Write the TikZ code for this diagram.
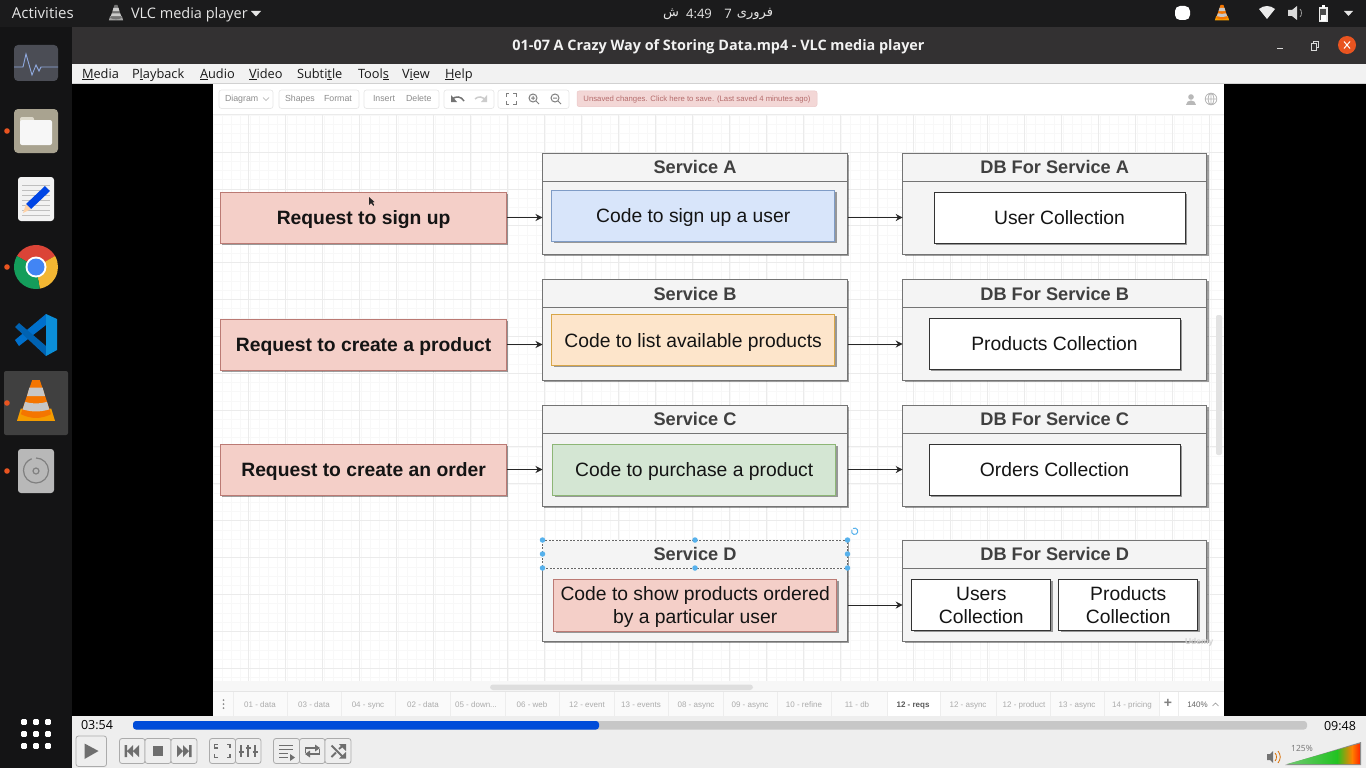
\documentclass[tikz,border=0pt]{standalone}
\usepackage{fontspec}
\setmainfont{Liberation Sans}
\newfontfamily\uifont{Open Sans}
\newfontfamily\arabicfont[Script=Arabic]{DejaVu Sans}
\TeXXeTstate=1
\usetikzlibrary{arrows.meta,shadows}
\definecolor{dock}{HTML}{141415}
\definecolor{topbar}{HTML}{1B1B1C}
\definecolor{titlebar}{HTML}{333132}
\definecolor{ctrl}{HTML}{EEEEEE}
\definecolor{gridminor}{HTML}{F8F8F8}
\definecolor{gridmajor}{HTML}{EBEBEB}
\definecolor{reqfill}{HTML}{F4CFC8}
\definecolor{reqline}{HTML}{BB7A74}
\definecolor{panelfill}{HTML}{F4F4F4}
\definecolor{panelline}{HTML}{747474}
\definecolor{tabtext}{HTML}{ABABAB}
\definecolor{handle}{HTML}{56B1EC}
\definecolor{orangedot}{HTML}{E95420}
\definecolor{vlco}{HTML}{F28A00}
\definecolor{btnline}{HTML}{ABABAB}
\definecolor{btnicon}{HTML}{6E6E6E}
\definecolor{codeAfill}{HTML}{D8E5FA}
\definecolor{codeAline}{HTML}{7F9CC6}
\definecolor{codeBfill}{HTML}{FDE5CB}
\definecolor{codeBline}{HTML}{D8A648}
\definecolor{codeCfill}{HTML}{D4E6D3}
\definecolor{codeCline}{HTML}{8DB676}
\tikzset{
  every node/.style={inner sep=0pt,outer sep=0pt},
  boxshadow/.style={drop shadow={shadow xshift=1.8pt,shadow yshift=-1.8pt,fill=black,opacity=.38}},
  reqbox/.style={draw=reqline,fill=reqfill,line width=1pt,minimum width=286pt,minimum height=51pt,boxshadow,font=\fontsize{19.3}{22}\selectfont\bfseries,text=black!92,text height=13pt,text depth=0pt},
  panel/.style={draw=panelline,fill=panelfill,line width=1pt,minimum width=305pt,minimum height=101pt,boxshadow},
  panelhead/.style={draw=panelline,fill=panelfill,line width=.8pt,minimum width=305pt,minimum height=28pt,font=\fontsize{18.2}{20}\selectfont\bfseries,text=black!75},
  codebox/.style={line width=1pt,minimum width=283pt,minimum height=51pt,boxshadow,font=\fontsize{19.3}{23}\selectfont,align=center,text=black!92},
  codeone/.style={codebox,text height=14pt,text depth=0pt},
  collbox/.style={draw=black!80,fill=white,line width=1pt,minimum width=251pt,minimum height=51pt,boxshadow,font=\fontsize{19.3}{23}\selectfont,align=center,text=black!92},
  collsmall/.style={collbox,minimum width=139pt},
  conn/.style={draw=black!85,line width=1pt,-{Stealth[length=7pt,width=7pt]}},
  seldot/.style={circle,fill=handle,minimum size=5.5pt},
  tabsep/.style={draw=black!7,line width=.8pt},
  tablab/.style={font=\fontsize{8}{10}\selectfont,text=tabtext,text height=6pt,text depth=0pt},
  toolgroup/.style={draw=black!9,fill=white,line width=.7pt,rounded corners=2.5pt},
  toollab/.style={font=\fontsize{8.8}{10}\selectfont,text=black!45,anchor=base west},
  menulab/.style={anchor=base west,font=\uifont\fontsize{12.8}{14}\selectfont,text=black!90},
  ctrlbtn/.style={draw=btnline,fill=ctrl,line width=.8pt,rounded corners=2.5pt},
  baricon/.style={fill=btnicon,draw=none},
  barline/.style={draw=btnicon,line width=1.9pt},
  appdot/.style={fill=white,rounded corners=1pt},
  pipdot/.style={circle,fill=orangedot,minimum size=5.6pt},
}
% VLC cone: centre x, top y, scale
\newcommand{\vlccone}[3]{%
  \begin{scope}[shift={(#1,#2)},scale=#3]
    \fill[vlco!85!yellow] (-20,43) -- (20,43) -- (16,30) -- (-16,30) -- cycle;
    \fill[vlco!85!red] (-4,0) -- (4,0) -- (16,36) to[bend left=25] (-16,36) -- cycle;
    \fill[black!22] (-7,8) -- (7,8) -- (9.5,17) -- (-9.5,17) -- cycle;
    \fill[black!22] (-11.5,23) to[bend right=15] (11.5,23) -- (14,31) to[bend left=15] (-14,31) -- cycle;
  \end{scope}}
\begin{document}
\begin{tikzpicture}[x=1pt,y=-1pt]
\useasboundingbox (0,0) rectangle (1366,768);
% ---- desktop frame
\fill[black] (0,0) rectangle (1366,768);
\fill[dock] (0,27) rectangle (72,768);
\fill[topbar] (0,0) rectangle (1366,27);
\fill[titlebar] (72,27) rectangle (1366,64);
\fill[black!5] (72,64) rectangle (1366,84);
\draw[black!18,line width=.6pt] (72,83.7) -- (1366,83.7);
\fill[white] (213,84) rectangle (1224,716);
\fill[ctrl] (72,716) rectangle (1366,768);
% ---- top bar
\node[anchor=base west,font=\uifont\fontsize{15}{17}\selectfont,text=white!90!black] (activities) at (12,19) {Activities};
\begin{scope}[shift={(116,5)},scale=.36]
  \fill[black!35] (-20,43) -- (20,43) -- (16,30) -- (-16,30) -- cycle;
  \fill[black!55] (-4,0) -- (4,0) -- (16,36) to[bend left=25] (-16,36) -- cycle;
  \fill[white!80!black] (-7,8) -- (7,8) -- (9.5,17) -- (-9.5,17) -- cycle;
  \fill[white!80!black] (-11.5,23) -- (11.5,23) -- (14,31) -- (-14,31) -- cycle;
\end{scope}
\node[anchor=base west,font=\uifont\fontsize{14.5}{17}\selectfont,text=white!90!black] (appname) at (131,19) {VLC media player};
\fill[white!90!black] (251,11) -- (261,11) -- (256,16.5) -- cycle;
\node[font=\arabicfont\fontsize{13}{15}\selectfont,text=white!90!black] (dateword) at (755,14) {\beginR فروری\endR};
\node[font=\uifont\fontsize{13}{15}\selectfont,text=white!90!black] (dateday) at (728,13.5) {7};
\node[font=\uifont\fontsize{13}{15}\selectfont,text=white!90!black] (clock) at (699,13.5) {4:49};
\node[font=\arabicfont\fontsize{13}{15}\selectfont,text=white!90!black] (ampm) at (671,14) {\beginR ش\endR};
\fill[white,rounded corners=5pt] (1175,6) rectangle (1190,20);
\vlccone{1222}{5}{.36}
\fill[white!92!black] (1259,9) .. controls (1264,5) and (1270,5) .. (1275,9) -- (1267,19) -- cycle;
\fill[white!85!black] (1288,10) -- (1292,10) -- (1297,6) -- (1297,20) -- (1292,16) -- (1288,16) -- cycle;
\draw[white!60!black,line width=.8pt] (1300,9) .. controls (1302,11) and (1302,15) .. (1300,17);
\draw[white!92!black,line width=1.4pt,fill=black!70] (1319.5,8) rectangle (1327,21);
\fill[white] (1321,15) rectangle (1325.5,21);
\fill[white] (1321.5,5.5) rectangle (1325,8);
\fill[white!90!black] (1344,11) -- (1353,11) -- (1348.5,16) -- cycle;
% ---- title bar
\node[anchor=base,font=\uifont\fontsize{14.4}{17}\selectfont\bfseries,text=white!95!black] (wintitle) at (718.5,51) {01-07 A Crazy Way of Storing Data.mp4 - VLC media player};
\draw[white!85!black,line width=1pt] (1277,48.5) -- (1283,48.5);
\draw[white!85!black,line width=.9pt] (1311,43.5) rectangle (1316.5,50);
\draw[white!85!black,line width=.7pt] (1313,43) -- (1313,41.5) -- (1318,41.5) -- (1318,47.5) -- (1316.5,47.5);
\fill[orangedot] (1347,45) circle[radius=9];
\draw[white,line width=1pt] (1344,41.5) -- (1350,48.5) (1350,41.5) -- (1344,48.5);
% ---- menu
\node[menulab] (mMedia) at (82,78) {\underline{M}edia};
\node[menulab] (mPlay) at (132,78) {P\underline{l}ayback};
\node[menulab] (mAudio) at (200,78) {\underline{A}udio};
\node[menulab] (mVideo) at (249,78) {\underline{V}ideo};
\node[menulab] (mSub) at (297,78) {Subti\underline{t}le};
\node[menulab] (mTools) at (358,78) {Tool\underline{s}};
\node[menulab] (mView) at (402,78) {V\underline{i}ew};
\node[menulab] (mHelp) at (445,78) {\underline{H}elp};
% ---- dock icons
\definecolor{sysmon}{HTML}{4B4D55}
\definecolor{sysline}{HTML}{8FA8DC}
\definecolor{filesbg}{HTML}{A9A390}
\definecolor{filestab}{HTML}{DEDACC}
\definecolor{chromer}{HTML}{DB4437}
\definecolor{chromey}{HTML}{F2B632}
\definecolor{chromeg}{HTML}{149D5B}
\definecolor{chromeb}{HTML}{4285F4}
\fill[sysmon,rounded corners=4pt] (14,45) rectangle (58,81);
\draw[sysline,line width=.9pt] (14,67) -- (23,67) -- (26,54) -- (32,75) -- (36,65) -- (39,71) -- (41,67) -- (58,67);
\fill[filesbg,rounded corners=4pt] (14,109) rectangle (58,153);
\fill[filestab,rounded corners=2pt] (20,117) rectangle (34,127);
\fill[white!97!black,rounded corners=2pt] (20,120) rectangle (52,145);
\fill[white!95!black,rounded corners=3pt] (18,177) rectangle (54,221);
\foreach \yy in {185,190,...,215} \draw[black!25,line width=.5pt] (22,\yy) -- (50,\yy);
\fill[blue!70!cyan!90!black] (45,186) -- (50,191) -- (31,209) -- (26,204) -- cycle;
\fill[orange!35!white] (26,204) -- (31,209) -- (23,213) -- cycle;
% chrome
\fill[chromer] (36,267) -- ++(-150:22) arc[start angle=-150,end angle=-30,radius=22] -- cycle;
\fill[chromey] (36,267) -- ++(-30:22) arc[start angle=-30,end angle=80,radius=22] -- cycle;
\fill[chromeg] (36,267) -- ++(80:22) arc[start angle=80,end angle=210,radius=22] -- cycle;
\fill[white] (36,267) circle[radius=10.5];
\fill[chromeb] (36,267) circle[radius=8.5];
% vscode
\fill[blue!45!cyan!80!black] (46,314) -- (15,340) -- (19,346) -- (46,325) -- cycle;
\fill[blue!45!cyan!70!black] (15,327) -- (19,323) -- (46,346) -- (46,356) -- cycle;
\fill[cyan!75!blue] (46,314) -- (57,319) -- (57,350) -- (46,356) -- cycle;
% vlc active
\fill[black!75,rounded corners=2pt] (4,371) rectangle (68,435);
\vlccone{36}{380}{.95}
% disk
\fill[black!28,rounded corners=3pt] (18,449) rectangle (54,493);
\draw[black!50,line width=1.2pt] (36,458) arc[start angle=-90,end angle=250,radius=12.5];
\draw[black!50,line width=1.2pt] (36,471) circle[radius=3];
% pips and app grid
\foreach \yy [count=\n] in {131,267,403,471} \node[pipdot] (pip\n) at (7,\yy) {};
\foreach \xx in {24,36,48} \foreach \yy in {722,734,746} \fill[appdot] (\xx-2.8,\yy-2.8) rectangle (\xx+2.8,\yy+2.8);
% ---- draw.io canvas
\foreach \k in {0,...,108} \draw[gridminor,line width=.5pt] ({213+9.24*\k},115) -- ({213+9.24*\k},681);
\foreach \k in {0,...,61} \draw[gridminor,line width=.5pt] (213,{115+9.22*\k}) -- (1224,{115+9.22*\k});
\foreach \k in {0,...,26} \draw[gridmajor,line width=.7pt] ({248.7+36.95*\k},115) -- ({248.7+36.95*\k},681);
\foreach \k in {0,...,15} \draw[gridmajor,line width=.7pt] (213,{152+36.85*\k}) -- (1224,{152+36.85*\k});
% toolbar
\fill[white] (213,84) rectangle (1224,113);
\draw[black!8,line width=1pt] (213,114) -- (1224,114);
\draw[toolgroup] (219,90) rectangle (273,108.5);
\draw[toolgroup] (279,90) rectangle (359,108.5);
\draw[toolgroup] (364,90) rectangle (439,108.5);
\draw[toolgroup] (444,90) rectangle (494,108.5);
\draw[toolgroup] (498,90) rectangle (569,108.5);
\node[toollab] (tDiagram) at (225,102) {Diagram};
\draw[black!35,line width=.6pt] (263,97.5) -- (266,100.5) -- (269,97.5);
\node[toollab] (tShapes) at (285,102) {Shapes};
\node[toollab] (tFormat) at (324,102) {Format};
\node[toollab] (tInsert) at (373,102) {Insert};
\node[toollab] (tDelete) at (406,102) {Delete};
\draw[black!55,line width=1.5pt] (464,101) .. controls (461,96) and (456,96) .. (452,99);
\fill[black!55] (451,95) -- (451,102) -- (457,102) -- cycle;
\draw[black!20,line width=1.5pt] (475,99) .. controls (478,96) and (483,96) .. (486,101);
\fill[black!20] (487,95) -- (487,102) -- (481,102) -- cycle;
\draw[black!50,line width=1pt] (506,97) -- (506,94) -- (509,94) (513,94) -- (516,94) -- (516,97) (516,101) -- (516,104) -- (513,104) (509,104) -- (506,104) -- (506,101);
\draw[black!50,line width=1pt] (533,98) circle[radius=4] (536,101) -- (539,104) (531,98) -- (535,98) (533,96) -- (533,100);
\draw[black!50,line width=1pt] (555,98) circle[radius=4] (558,101) -- (561,104) (553,98) -- (557,98);
\definecolor{savefill}{HTML}{F3D7D6}
\definecolor{saveline}{HTML}{EBC8C8}
\definecolor{savetext}{HTML}{B56C6C}
\draw[draw=saveline,fill=savefill,line width=.5pt,rounded corners=2pt] (577,91) rectangle (817,106.5);
\node[anchor=base,font=\fontsize{7.75}{9}\selectfont,text=savetext] (unsaved) at (697,101.5) {Unsaved changes. Click here to save. (Last saved 4 minutes ago)};
\fill[black!28] (1191,97) circle[radius=2.8];
\fill[black!28] (1186,104.5) .. controls (1186,99) and (1196,99) .. (1196,104.5) -- cycle;
\draw[black!28,line width=.8pt] (1211,99) circle[radius=5.8] (1205.2,99) -- (1216.8,99) (1211,93.2) -- (1211,104.8) (1211,99) ellipse[x radius=2.8,y radius=5.8];
% bottom strips
\fill[black!3] (213,681) rectangle (1224,692);
\fill[black!13,rounded corners=3pt] (490,684.5) rectangle (753,690);
\fill[black!11,rounded corners=2pt] (1216,315) rectangle (1222,455);
\fill[black!2] (213,692) rectangle (1224,716);
\draw[black!10,line width=.8pt] (213,691.5) -- (1224,691.5);
\fill[white] (887,692) rectangle (940,716);
\fill[white] (1159,692) rectangle (1224,716);
\foreach \s in {233,287.5,341.5,395.5,450,505,559,614,668,723,777,831,887,940,996,1050,1104,1159,1178} \draw[tabsep] (\s,692) -- (\s,716);
\foreach \dy in {700,704,708} \fill[black!45] (223.5,\dy) circle[radius=1];
\foreach \tx/\lab/\nm in {260/01 - data/ta,314/03 - data/tb,368/04 - sync/tc,423/02 - data/td,532/06 - web/tf,587/12 - event/tg,641/13 - events/th,696/08 - async/ti,750/09 - async/tj,804/10 - refine/tk,857/11 - db/tl,968/12 - async/tm,1024/12 - product/tn,1077/13 - async/to,1132/14 - pricing/tp}
  \node[tablab] (\nm) at (\tx,704.5) {\lab};
\node[tablab] (te) at (476,704.5) {05 - down...};
\node[tablab,font=\fontsize{8}{10}\selectfont\bfseries,text=black!65] (tabreqs) at (913,704.5) {12 - reqs};
\node[font=\fontsize{14}{14}\selectfont\bfseries,text=black!50] (tabplus) at (1168,703.5) {+};
\node[tablab,text=black!60] (zoomlab) at (1197.5,704.5) {140\%};
\draw[black!45,line width=.6pt] (1212.5,706) -- (1215.5,703) -- (1218.5,706);
% ---- diagram boxes
\node[reqbox] (req1) at (363.6,217.5) {Request to sign up};
\node[reqbox] (req2) at (363.6,344.5) {Request to create a product};
\node[reqbox] (req3) at (363.6,469.5) {Request to create an order};
\foreach \nm/\cy/\ttl in {svcA/203.5/Service A,svcB/330/Service B,svcC/455.5/Service C,svcD/590.5/Service D}{
  \node[panel] (\nm) at (695,\cy) {};
  \node[panelhead,anchor=north] (\nm h) at (\nm.north) {\ttl};
}
\foreach \nm/\cy/\ttl in {dbA/203.5/DB For Service A,dbB/330/DB For Service B,dbC/455.5/DB For Service C,dbD/590.5/DB For Service D}{
  \node[panel,minimum width=304pt] (\nm) at (1054.7,\cy) {};
  \node[panelhead,minimum width=304pt,anchor=north] (\nm h) at (\nm.north) {\ttl};
}
\node[codeone,draw=codeAline,fill=codeAfill] (codeA) at (693.2,215.5) {Code to sign up a user};
\node[codeone,draw=codeBline,fill=codeBfill] (codeB) at (693.2,340) {Code to list available products};
\node[codeone,draw=codeCline,fill=codeCfill] (codeC) at (694.2,469.5) {Code to purchase a product};
\node[codebox,draw=reqline,fill=reqfill,minimum height=52pt,text depth=0pt] (codeD) at (695.2,605) {Code to show products ordered\\by a particular user};
\node[collbox] (collA) at (1059.5,217.5) {User Collection};
\node[collbox] (collB) at (1054.5,344) {Products Collection};
\node[collbox] (collC) at (1054.5,469.5) {Orders Collection};
\node[collsmall] (collD1) at (981.3,605) {Users\\Collection};
\node[collsmall] (collD2) at (1128.3,605) {Products\\Collection};
% connectors
\draw[conn] (req1.east) -- (req1.east -| svcA.west);
\draw[conn] (req2.east) -- (req2.east -| svcB.west);
\draw[conn] (req3.east) -- (req3.east -| svcC.west);
\draw[conn] (svcA.east |- collA.west) -- (dbA.west |- collA.west);
\draw[conn] (svcB.east |- collB.west) -- (dbB.west |- collB.west);
\draw[conn] (svcC.east |- collC.west) -- (dbC.west |- collC.west);
\draw[conn] (svcD.east |- collD1.west) -- (dbD.west |- collD1.west);
% selection on Service D header
\draw[white,line width=.9pt] (svcDh.north west) rectangle (svcDh.south east);
\draw[black!60,line width=.7pt,dash pattern=on 2pt off 1.5pt] (svcDh.north west) rectangle (svcDh.south east);
\node[seldot] (s1) at (svcDh.north west) {};
\node[seldot] (s2) at (svcDh.north) {};
\node[seldot] (s3) at (svcDh.north east) {};
\node[seldot] (s4) at (svcDh.west) {};
\node[seldot] (s5) at (svcDh.east) {};
\node[seldot] (s6) at (svcDh.south west) {};
\node[seldot] (s7) at (svcDh.south) {};
\node[seldot] (s8) at (svcDh.south east) {};
\draw[handle,line width=1pt] (853,528.5) arc[start angle=-120,end angle=210,radius=3.2];
% watermark
\node[anchor=west,font=\fontsize{8.5}{10}\selectfont\bfseries,text=black!18] (wmark) at (1185,642) {Udemy};
% pointer
\fill[black!85] (369,197) -- (369,205) -- (371,203) -- (373.5,206) -- (374,204.5) -- (372.5,202.5) -- (374.5,202) -- cycle;
% ---- player controls
\node[anchor=west,font=\uifont\fontsize{12.5}{14}\selectfont,text=black] (tcur) at (81,725.5) {03:54};
\node[anchor=west,font=\uifont\fontsize{12.5}{14}\selectfont,text=black] (tend) at (1324,726) {09:48};
\fill[black!22,rounded corners=3pt] (133,721) rectangle (1307,729.5);
\fill[blue!65!cyan!85!black,rounded corners=3pt] (133,721) rectangle (599,729.5);
\draw[ctrlbtn] (76,736) rectangle (106.5,766.5);
\fill[baricon] (84.5,743.5) -- (98.5,751) -- (84.5,759) -- cycle;
\foreach \xa/\xb in {119.5/145,145/171,171/197,209.5/235.5,235.5/261,273.5/299.5,299.5/325,325/351} \draw[ctrlbtn] (\xa,738.5) rectangle (\xb,763.5);
\fill[baricon] (124.5,745) rectangle (127,757) (139,745) -- (139,757) -- (133,751) -- cycle (133,745) -- (133,757) -- (127,751) -- cycle;
\fill[baricon] (153,746) rectangle (163,756);
\fill[baricon] (177,745) -- (177,757) -- (183,751) -- cycle (183,745) -- (183,757) -- (189,751) -- cycle (189,745) rectangle (191.5,757);
\draw[barline] (218,748) -- (214.5,748) -- (214.5,744.5) -- (218,744.5)  (227,744.5) -- (230,744.5) -- (230,748) (230,754) -- (230,757.5) -- (227,757.5) (218,757.5) -- (214.5,757.5) -- (214.5,754);
\draw[barline] (241,745) -- (241,757) (248,745) -- (248,757) (255,745) -- (255,757);
\draw[barline,line width=2.4pt] (238.5,752) -- (243.5,752) (245.5,748) -- (250.5,748) (252.5,752) -- (257.5,752);
\draw[barline] (279,745.5) -- (293,745.5) (279,749.5) -- (293,749.5) (279,753.5) -- (288,753.5) (279,757.5) -- (288,757.5);
\fill[baricon] (290,754) -- (295,757.5) -- (290,761) -- cycle;
\draw[barline] (305.5,753) -- (305.5,748) -- (316,748) (319.5,749) -- (319.5,754) -- (309,754);
\fill[baricon] (315,744.5) -- (320,748) -- (315,751.5) -- cycle (310,750.5) -- (305,754) -- (310,757.5) -- cycle;
\draw[barline] (331.5,745.5) -- (343,757) (331.5,757) -- (336,752.5) (339,749) -- (343,745.5);
\fill[baricon] (339,744) -- (346,744) -- (346,751) -- cycle (339,758.5) -- (346,758.5) -- (346,752) -- cycle;
% volume
\definecolor{volA}{HTML}{72C872}
\definecolor{volB}{HTML}{22C322}
\fill[black!55] (1267,754) rectangle (1270,760) (1270,754) -- (1273,751) -- (1273,763) -- (1270,760) -- cycle;
\draw[orange!85!black,line width=.8pt] (1275,753) .. controls (1277,755) and (1277,759) .. (1275,761);
\draw[orange!85!black,line width=.8pt] (1278,751) .. controls (1281,755) and (1281,759) .. (1278,763);
\fill[black!45] (1285,765) -- (1361,765) -- (1361,742) -- cycle;
\begin{scope}
  \clip (1287,764) -- (1360,764) -- (1360,743.5) -- cycle;
  \shade[left color=volA,right color=volB] (1287,743) rectangle (1337,765);
  \shade[left color=volB,right color=orange] (1337,743) rectangle (1352,765);
  \shade[left color=orange,right color=red!70!orange] (1352,743) rectangle (1360,765);
\end{scope}
\node[font=\uifont\fontsize{8.5}{10}\selectfont,text=black!55] (vollab) at (1302,748.5) {125\%};
\end{tikzpicture}
\end{document}
